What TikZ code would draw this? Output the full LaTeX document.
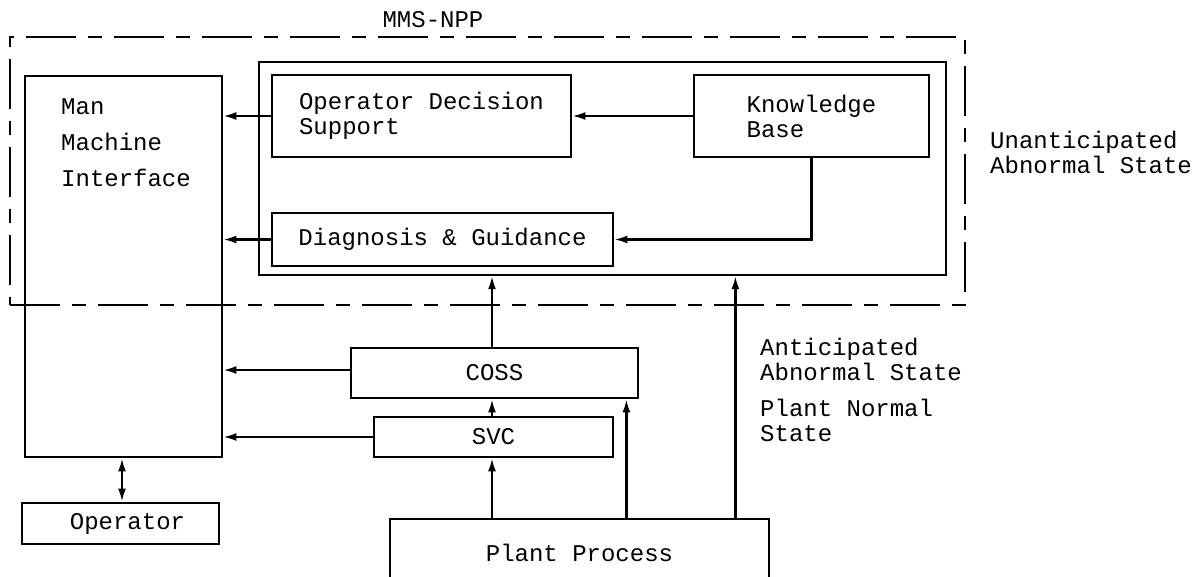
\documentclass[tikz,border=0pt]{standalone}
\usepackage{fontspec}
\setmonofont{Liberation Mono}
\usetikzlibrary{arrows.meta}
\begin{document}
\begin{tikzpicture}[x=1pt,y=-1pt,
  every node/.style={font=\ttfamily\fontsize{24}{25}\selectfont, text=black},
  box/.style={draw, line width=2.8pt, inner sep=0pt, align=left},
  frame/.style={draw, line width=2.4pt, inner sep=0pt},
  dashframe/.style={draw, line width=2.4pt, inner sep=0pt, dash pattern=on 50pt off 12pt on 14pt off 12pt},
  tip/.tip={Latex[length=13pt,width=8pt]},
  arr/.style={line width=2.2pt, -tip},
  darr/.style={line width=2.2pt, tip-tip},
  txt/.style={anchor=west, align=left, inner sep=0pt}
]
\clip (0,0) rectangle (1203,577);
\fill[white] (0,0) rectangle (1203,577);

% system boundary and knowledge-based part
\node[dashframe, minimum width=955pt, minimum height=268pt] (mms) at (487.5,171) {};
\node[anchor=center] (mmslabel) at (433,20) {MMS-NPP};
\node[frame, minimum width=687pt, minimum height=213pt] (inner) at (602.5,168.5) {};

% boxes
\node[box, minimum width=197pt, minimum height=381pt] (mmi) at (123.5,266.5) {};
\node[txt] (mmitext) at (61,143) {Man\\[11pt]Machine\\[11pt]Interface};
\node[box, minimum width=299pt, minimum height=82pt] (ods) at (421.5,116) {Operator Decision\\Support};
\node[box, minimum width=235pt, minimum height=82pt] (kb) at (811.5,116) {Knowledge\\Base};
\node[box, minimum width=341pt, minimum height=53pt] (dg) at (442.5,239.5) {Diagnosis \& Guidance};
\node[box, minimum width=287pt, minimum height=50pt] (coss) at (494.5,373) {COSS};
\node[box, minimum width=239pt, minimum height=40pt] (svc) at (493.5,437) {SVC};
\node[box, minimum width=197pt, minimum height=41pt] (op) at (120.5,523.5) {\hspace*{14pt}Operator};
\node[box, minimum width=379pt, minimum height=68pt] (plant) at (579.5,553) {Plant Process};

% side labels
\node[txt] (unant) at (990,152.5) {Unanticipated\\Abnormal State};
\node[txt] (ant) at (760,390) {Anticipated\\Abnormal State\\[11pt]Plant Normal\\State};

% connectors
\draw[arr] (ods.west) -- (ods.west -| mmi.east);
\draw[arr] (kb.west) -- (ods.east);
\draw[arr] (kb.south) |- (dg.east);
\draw[arr] (dg.west) -- (dg.west -| mmi.east);
\draw[arr] ([xshift=-2.5pt]coss.north) -- ([xshift=-2.5pt]coss.north |- inner.south);
\draw[arr] ([yshift=3pt]coss.west) -- ([yshift=3pt]coss.west -| mmi.east);
\draw[arr] (svc.west) -- (svc.west -| mmi.east);
\draw[arr] ([xshift=-1.5pt]svc.north) -- ([xshift=-1.5pt]svc.north |- coss.south);
\draw[arr] ([xshift=-1.5pt]svc.south |- plant.north) -- ([xshift=-1.5pt]svc.south);
\draw[arr] ([xshift=-13pt]plant.north -| coss.east) -- ([xshift=-13pt]coss.south east);
\draw[arr] ([xshift=-35pt]plant.north east) -- ([xshift=-35pt]plant.north east |- inner.south);
\draw[darr] ([xshift=-1.5pt]mmi.south) -- ([xshift=-1.5pt]mmi.south |- op.north);
\end{tikzpicture}
\end{document}
